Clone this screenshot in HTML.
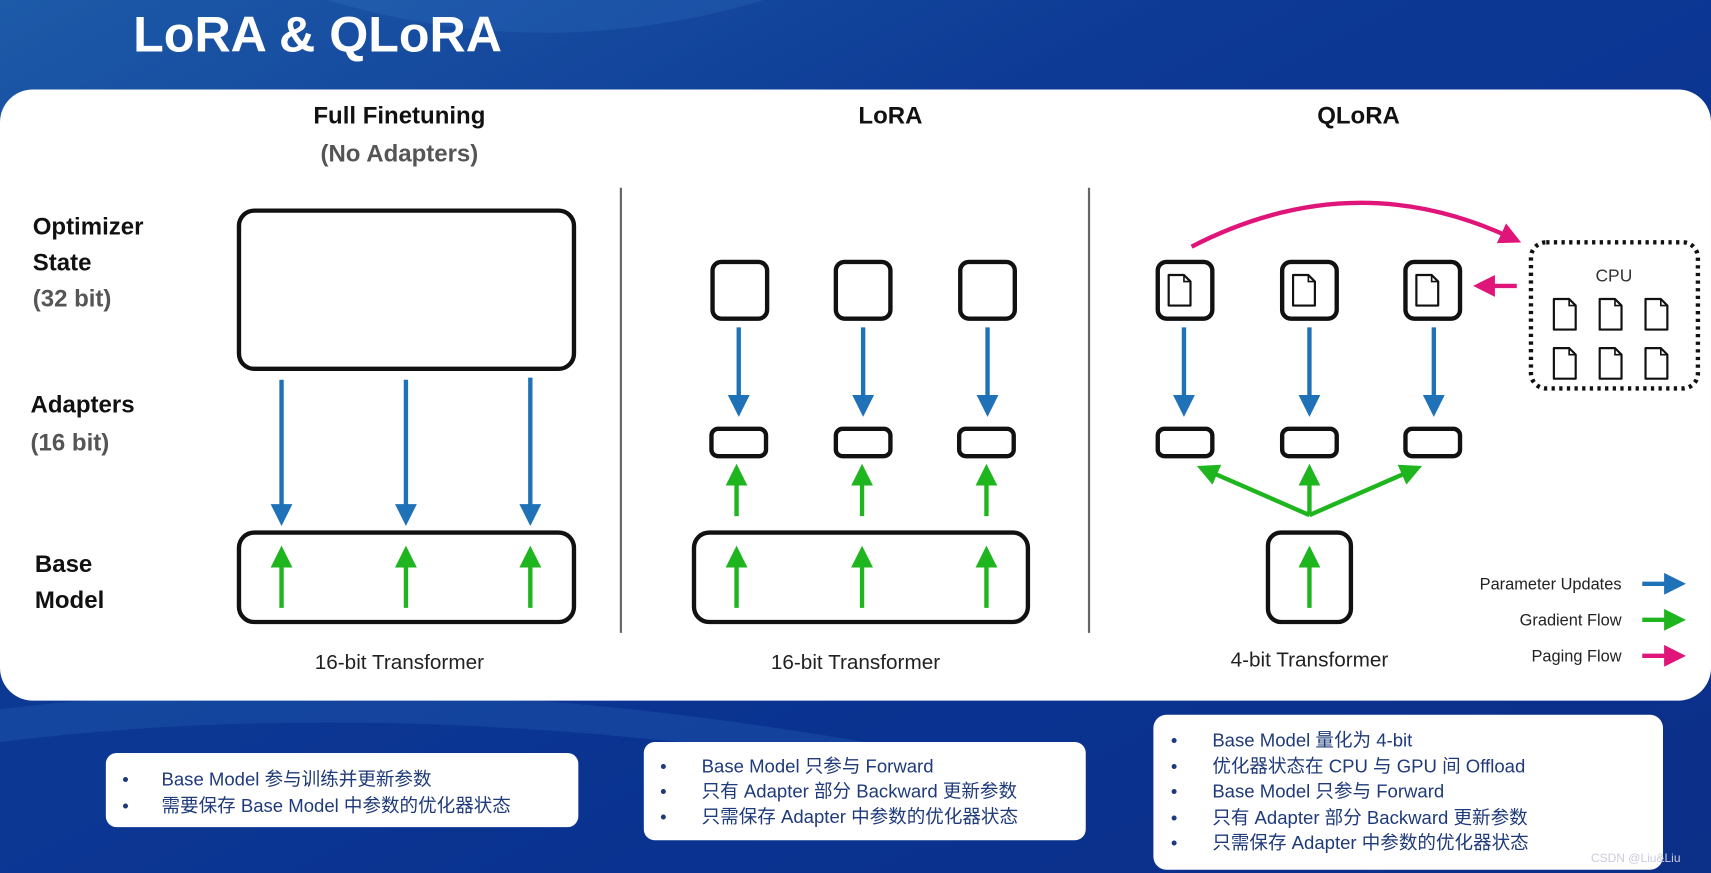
<!DOCTYPE html>
<html><head><meta charset="utf-8"><style>
html,body{margin:0;padding:0;width:1711px;height:873px;overflow:hidden;background:#0a2a80}
svg{display:block}
.b{font-family:"Liberation Sans",sans-serif;font-weight:bold}
.n{font-family:"Liberation Sans",sans-serif}
.c{font-family:"Liberation Sans","Noto Sans CJK SC",sans-serif;fill:#1f3a7a;font-size:17px}
</style></head><body>
<svg width="1711" height="873" viewBox="0 0 1568 800" xmlns="http://www.w3.org/2000/svg">
<defs>
<linearGradient id="bg" x1="0" y1="0" x2="1" y2="1">
<stop offset="0" stop-color="#1d5aa8"/><stop offset="0.35" stop-color="#0d3a95"/><stop offset="0.7" stop-color="#0a3290"/><stop offset="1" stop-color="#0c2f88"/>
</linearGradient>
<marker id="mb" markerWidth="5" markerHeight="5" refX="2.5" refY="2.5" orient="auto" markerUnits="strokeWidth"><path d="M0,0 L5,2.5 L0,5 z" fill="#1f72b8"/></marker>
<marker id="mg" markerWidth="5" markerHeight="5" refX="2.5" refY="2.5" orient="auto" markerUnits="strokeWidth"><path d="M0,0 L5,2.5 L0,5 z" fill="#1fb51f"/></marker>
<marker id="mm" markerWidth="5" markerHeight="5" refX="2.5" refY="2.5" orient="auto" markerUnits="strokeWidth"><path d="M0,0 L5,2.5 L0,5 z" fill="#e0157a"/></marker>
<g id="doc"><path d="M0,0 h14 l6,6 v22 h-20 z" fill="#fff" stroke="#111" stroke-width="2" stroke-linejoin="round"/><path d="M14,0 v6 h6" fill="none" stroke="#111" stroke-width="1.5"/></g>
</defs>
<rect width="1568" height="800" fill="url(#bg)"/>
<path d="M0,650 Q400,600 900,700 L900,720 Q400,630 0,680z" fill="#2a6ec0" opacity="0.25"/>
<path d="M300,0 Q500,60 700,0z" fill="#3a80d0" opacity="0.2"/>
<text x="122" y="47" class="b" fill="#fff" font-size="46">LoRA &amp; QLoRA</text>
<rect x="0" y="82" width="1568" height="560" rx="30" fill="#fff"/>
<g class="b" font-size="22" text-anchor="middle" fill="#111">
<text x="366" y="113">Full Finetuning</text>
<text x="366" y="148" fill="#555">(No Adapters)</text>
<text x="816" y="113">LoRA</text>
<text x="1245" y="113">QLoRA</text>
</g>
<g class="b" font-size="22" fill="#111">
<text x="30" y="215">Optimizer</text><text x="30" y="248">State</text><text x="30" y="281" fill="#555">(32 bit)</text>
<text x="28" y="378">Adapters</text><text x="28" y="413" fill="#555">(16 bit)</text>
<text x="32" y="524">Base</text><text x="32" y="557">Model</text>
</g>
<line x1="569" y1="172" x2="569" y2="580" stroke="#666" stroke-width="2"/>
<line x1="998" y1="172" x2="998" y2="580" stroke="#666" stroke-width="2"/>
<g fill="none" stroke="#111" stroke-width="4">
<rect x="219" y="193" width="307" height="145" rx="14"/>
<rect x="219" y="488" width="307" height="82" rx="14"/>
<rect x="636" y="488" width="306" height="82" rx="14"/>
<rect x="1162" y="488" width="76" height="82" rx="12"/>
<rect x="653" y="240" width="50" height="52" rx="8"/><rect x="766" y="240" width="50" height="52" rx="8"/><rect x="880" y="240" width="50" height="52" rx="8"/>
<rect x="652" y="393" width="50" height="25" rx="6"/><rect x="766" y="393" width="50" height="25" rx="6"/><rect x="879" y="393" width="50" height="25" rx="6"/>
<rect x="1061" y="240" width="50" height="52" rx="8"/><rect x="1175" y="240" width="50" height="52" rx="8"/><rect x="1288" y="240" width="50" height="52" rx="8"/>
<rect x="1061" y="393" width="50" height="25" rx="6"/><rect x="1175" y="393" width="50" height="25" rx="6"/><rect x="1288" y="393" width="50" height="25" rx="6"/>
</g>
<use href="#doc" x="1071" y="252"/><use href="#doc" x="1185" y="252"/><use href="#doc" x="1298" y="252"/>
<g stroke="#1f72b8" stroke-width="4" marker-end="url(#mb)">
<line x1="258" y1="348" x2="258" y2="472"/><line x1="372" y1="348" x2="372" y2="472"/><line x1="486" y1="346" x2="486" y2="472"/>
<line x1="677" y1="300" x2="677" y2="372"/><line x1="791" y1="300" x2="791" y2="372"/><line x1="905" y1="300" x2="905" y2="372"/>
<line x1="1085" y1="300" x2="1085" y2="372"/><line x1="1200" y1="300" x2="1200" y2="372"/><line x1="1314" y1="300" x2="1314" y2="372"/>
<line x1="1505" y1="535" x2="1535" y2="535"/>
</g>
<g stroke="#1fb51f" stroke-width="4" marker-end="url(#mg)">
<line x1="258" y1="557" x2="258" y2="510"/><line x1="372" y1="557" x2="372" y2="510"/><line x1="486" y1="557" x2="486" y2="510"/>
<line x1="675" y1="557" x2="675" y2="510"/><line x1="790" y1="557" x2="790" y2="510"/><line x1="904" y1="557" x2="904" y2="510"/>
<line x1="675" y1="473" x2="675" y2="435"/><line x1="790" y1="473" x2="790" y2="435"/><line x1="904" y1="473" x2="904" y2="435"/>
<line x1="1200" y1="557" x2="1200" y2="510"/>
<line x1="1200" y1="472" x2="1200" y2="435"/><line x1="1200" y1="472" x2="1106" y2="431"/><line x1="1200" y1="472" x2="1294" y2="431"/>
<line x1="1505" y1="568" x2="1535" y2="568"/>
</g>
<g stroke="#e0157a" stroke-width="4" fill="none" marker-end="url(#mm)">
<path d="M1092,226 Q1240,150 1385,218"/>
<line x1="1390" y1="262" x2="1360" y2="262"/>
<line x1="1505" y1="601" x2="1535" y2="601"/>
</g>
<rect x="1403" y="222" width="153" height="134" rx="14" fill="none" stroke="#111" stroke-width="4" stroke-dasharray="3,4"/>
<text x="1479" y="258" class="n" font-size="16" text-anchor="middle" fill="#333">CPU</text>
<use href="#doc" x="1424" y="274"/><use href="#doc" x="1466" y="274"/><use href="#doc" x="1508" y="274"/>
<use href="#doc" x="1424" y="319"/><use href="#doc" x="1466" y="319"/><use href="#doc" x="1508" y="319"/>
<g class="n" font-size="19" text-anchor="middle" fill="#222">
<text x="366" y="613">16-bit Transformer</text><text x="784" y="613">16-bit Transformer</text><text x="1200" y="611">4-bit Transformer</text>
</g>
<g class="n" font-size="15" text-anchor="end" fill="#222">
<text x="1486" y="540">Parameter Updates</text><text x="1486" y="573">Gradient Flow</text><text x="1486" y="606">Paging Flow</text>
</g>
<rect x="97" y="690" width="433" height="68" rx="10" fill="#fff"/>
<rect x="590" y="680" width="405" height="90" rx="10" fill="#fff"/>
<rect x="1057" y="655" width="467" height="142" rx="12" fill="#fff"/>
<g class="c">
<text x="112" y="720">•</text><text x="148" y="720">Base Model 参与训练并更新参数</text>
<text x="112" y="744">•</text><text x="148" y="744">需要保存 Base Model 中参数的优化器状态</text>
<text x="605" y="708">•</text><text x="643" y="708">Base Model 只参与 Forward</text>
<text x="605" y="731">•</text><text x="643" y="731">只有 Adapter 部分 Backward 更新参数</text>
<text x="605" y="754">•</text><text x="643" y="754">只需保存 Adapter 中参数的优化器状态</text>
<text x="1073" y="684">•</text><text x="1111" y="684">Base Model 量化为 4-bit</text>
<text x="1073" y="708">•</text><text x="1111" y="708">优化器状态在 CPU 与 GPU 间 Offload</text>
<text x="1073" y="731">•</text><text x="1111" y="731">Base Model 只参与 Forward</text>
<text x="1073" y="755">•</text><text x="1111" y="755">只有 Adapter 部分 Backward 更新参数</text>
<text x="1073" y="778">•</text><text x="1111" y="778">只需保存 Adapter 中参数的优化器状态</text>
</g>
<text x="1458" y="790" class="n" font-size="11" fill="#ccd">CSDN @Liu&amp;Liu</text>
</svg>
</body></html>
